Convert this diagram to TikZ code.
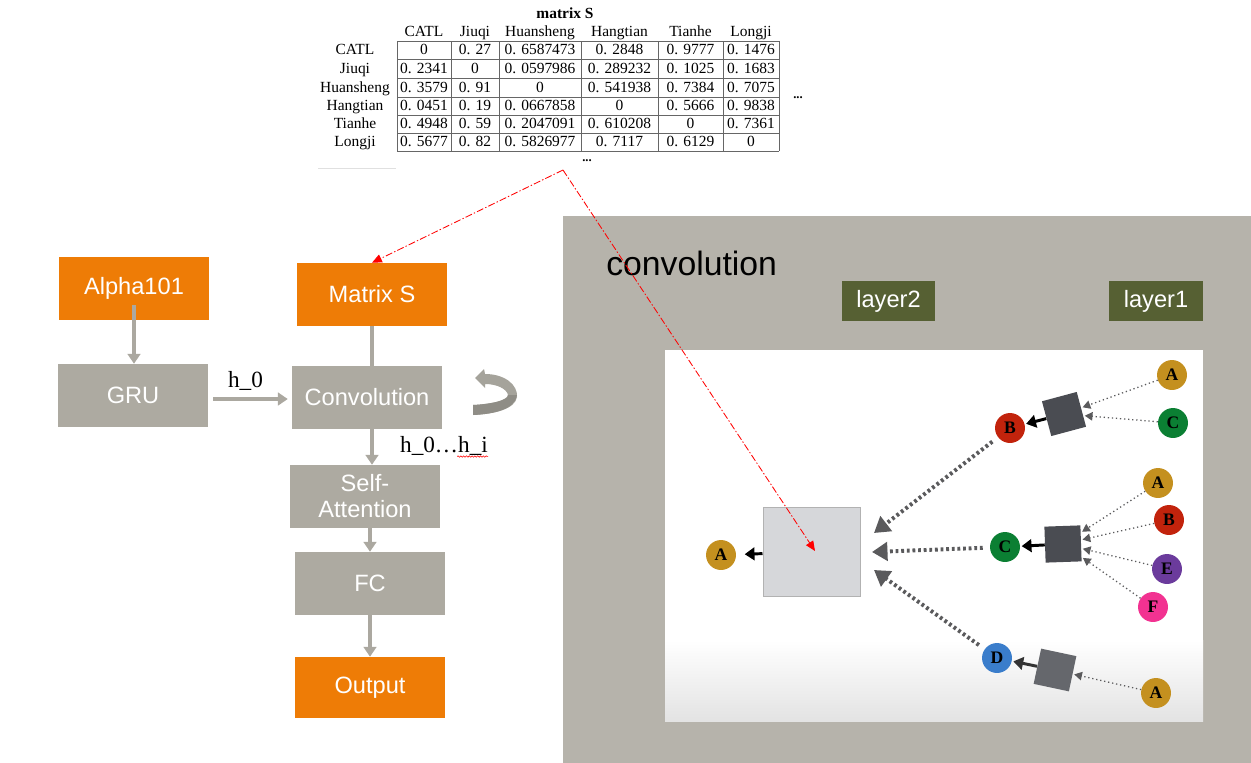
\documentclass[tikz,border=0pt]{standalone}
\usepackage{fontspec}
\setmainfont{Liberation Serif}
\setsansfont{Liberation Sans}
\setmonofont{Liberation Mono}
\usepackage{xcolor}
\usetikzlibrary{arrows.meta,decorations.pathmorphing}
\definecolor{box_orange}{HTML}{EE7C06}
\definecolor{box_gray}{HTML}{ADAAA1}
\definecolor{line_gray}{HTML}{ABA8A0}
\definecolor{icon_gray}{HTML}{A5A39B}
\definecolor{icon_dark}{HTML}{8F8D86}
\definecolor{panel_gray}{HTML}{B6B3AB}
\definecolor{layer_green}{HTML}{566033}
\definecolor{sq_gray}{HTML}{4A4C52}
\definecolor{sq_light}{HTML}{D6D7DA}
\definecolor{dot_gray}{HTML}{5A5A5C}
\definecolor{ball_gold}{HTML}{C4901F}
\definecolor{ball_red}{HTML}{C2230C}
\definecolor{ball_green}{HTML}{0B7F33}
\definecolor{ball_purple}{HTML}{6B3B9C}
\definecolor{ball_pink}{HTML}{F23291}
\definecolor{ball_blue}{HTML}{3A7DCB}

\begin{document}
\begin{tikzpicture}[x=0.025cm, y=-0.025cm,
    every node/.style={inner sep=0pt},
    orange box/.style={fill=box_orange, text=white, minimum width=106.7pt, minimum height=44.8pt,
      font=\sffamily\fontsize{16.8}{18.5}\selectfont, align=center},
    gray box/.style={orange box, fill=box_gray},
    layer box/.style={fill=layer_green, text=white, minimum width=66.2pt, minimum height=28.5pt,
      font=\sffamily\fontsize{16.8}{18}\selectfont},
    flow/.style={draw=line_gray, line width=2.8pt, -{Triangle[length=7pt,width=9pt]}},
    tab/.style={font=\fontsize{11}{12}\selectfont, text height=9.2pt, text depth=2.3pt},
    tab line/.style={draw=black!60, line width=0.7pt},
    lbl/.style={font=\fontsize{16.5}{18}\selectfont},
    ball/.style={circle, minimum size=21.3pt, text=black, font=\bfseries\fontsize{12.5}{12.5}\selectfont},
    block/.style={fill=sq_gray, minimum size=25.6pt},
    thin dots/.style={dot_gray, line width=0.9pt, dotted, shorten >=1pt, -{Triangle[length=5.5pt,width=6pt]}},
    fat dots/.style={dot_gray, line width=2.8pt, dash pattern=on 2pt off 2pt, shorten <=5pt,
      -{Triangle[length=11pt,width=13pt]}},
    push/.style={line width=2.1pt, shorten >=1pt, -{Triangle[length=7pt,width=9pt]}},
    red link/.style={red, line width=0.6pt, dash pattern=on 5pt off 1.5pt on 1pt off 1.5pt,
      -{Triangle[length=7pt,width=6pt]}}]

  \fill[white] (0,0) rectangle (1251,763);
  \useasboundingbox (0,0) rectangle (1251,763);

  % matrix S table at the top
  \node[tab, font=\bfseries\fontsize{11}{12}\selectfont] (title) at (565,14) {matrix S};
  \foreach \x/\name [count=\i] in {424/CATL, 475/Jiuqi, 540/Huansheng, 619.5/Hangtian, 690.5/Tianhe, 751/Longji}
    \node[tab] (col\i) at (\x,32) {\name};
  \foreach \x in {397,451,499,581,658,723,779}
    \draw[tab line] (\x,41) -- (\x,151);
  \foreach \y in {41,59,78,97,115,133,151}
    \draw[tab line] (397,\y) -- (779,\y);
  \foreach \y/\name/\vals [count=\r] in {
      50/CATL/{0,0. 27,0. 6587473,0. 2848,0. 9777,0. 1476},
      68.5/Jiuqi/{0. 2341,0,0. 0597986,0. 289232,0. 1025,0. 1683},
      87.5/Huansheng/{0. 3579,0. 91,0,0. 541938,0. 7384,0. 7075},
      106/Hangtian/{0. 0451,0. 19,0. 0667858,0,0. 5666,0. 9838},
      124/Tianhe/{0. 4948,0. 59,0. 2047091,0. 610208,0,0. 7361},
      142/Longji/{0. 5677,0. 82,0. 5826977,0. 7117,0. 6129,0}} {
    \node[tab] (row\r) at (355,\y) {\name};
    \foreach \v [count=\c] in \vals {
      \pgfmathsetmacro\cx{{424,475,540,619.5,690.5,751}[\c-1]}
      \node[tab] (cell-\r-\c) at (\cx,\y) {\v};
    }
  }
  \node[font=\bfseries\fontsize{9}{9}\selectfont] (more col) at (798,98) {...};
  \node[font=\bfseries\fontsize{9}{9}\selectfont] (more row) at (587,161) {...};
  \draw[black!12, line width=0.7pt] (318,168) -- (396,168);

  % model pipeline
  \node[orange box] (alpha) at (134,288.5) {Alpha101};
  \node[gray box] (gru) at (133,395.5) {GRU};
  \node[orange box] (matS) at (372,294.5) {Matrix S};
  \node[gray box] (conv) at (367,397.5) {Convolution};
  \node[gray box] (att) at (365,496.5) {Self-\\Attention};
  \node[gray box] (fc) at (370,583.5) {FC};
  \node[orange box, minimum height=43.4pt] (out) at (370,687.5) {Output};

  \draw[flow] ([yshift=10.7pt]alpha.south) -- (alpha.south |- gru.north);
  \draw[flow] ([xshift=3.5pt,yshift=-2.5pt]gru.east) -- ([xshift=-2.8pt,yshift=-2.5pt]conv.west |- gru.east);
  \draw[line_gray, line width=2.8pt] (matS.south) -- (matS.south |- conv.north);
  \draw[flow] (matS.south |- conv.south) -- (matS.south |- att.north);
  \draw[flow] (fc.north |- att.south) -- (fc.north);
  \draw[flow] (fc.south) -- (out.north);

  \node[lbl] (h0) at (245.5,381) {h\_0};
  \node[lbl] (hseq) at (444,446) {h\_0\ldots h\_i};
  \draw[red, line width=0.4pt, decorate, decoration={snake, amplitude=0.5pt, segment length=2pt}]
    ([xshift=-22pt,yshift=-0.5pt]hseq.south east) -- ([yshift=-0.5pt]hseq.south east);

  % loop icon next to Convolution
  \fill[icon_gray] (475,378) -- (484,369) -- (485,374) .. controls (505,374) and (518,385) .. (517,397)
    .. controls (515,409) and (495,414) .. (473,415) -- (473,405) .. controls (493,404) and (508,400) .. (508,395)
    .. controls (507,389) and (497,384) .. (485,384) -- (485,388) -- cycle;
  \fill[icon_dark] (517,395) .. controls (515,409) and (495,414) .. (473,415) -- (473,405)
    .. controls (493,404) and (508,400) .. (508,395) -- cycle;

  % convolution panel
  \fill[panel_gray] (563,216) rectangle (1251,763);
  \node[anchor=west, font=\sffamily\fontsize{24}{24}\selectfont] (convtitle) at (606,263) {convolution};
  \node[layer box] (layer2) at (888.5,301) {layer2};
  \node[layer box] (layer1) at (1156,301) {layer1};

  \fill[white] (665,350) rectangle (1203,721);
  \shade[top color=white, bottom color=black!11] (665,640) rectangle (1203,721);

  \node[fill=sq_light, draw=black!30, line width=0.7pt, minimum width=69pt, minimum height=62.6pt] (core) at (811.5,552) {};
  \node[ball, fill=ball_gold] (aL) at (721,555) {A};
  \draw[push, shorten >=6pt] (core) -- (aL);

  \node[block, rotate=15] (q1) at (1064,414) {};
  \node[block, rotate=2] (q2) at (1063,544) {};
  \node[block, rotate=-12, fill=sq_gray!85] (q3) at (1055,670) {};

  \node[ball, fill=ball_red] (bB) at (1010,428) {B};
  \node[ball, fill=ball_green] (cM) at (1005,547) {C};
  \node[ball, fill=ball_blue] (dD) at (997,658) {D};
  \node[ball, fill=ball_gold] (a1) at (1172,375) {A};
  \node[ball, fill=ball_green] (c1) at (1173,423) {C};
  \node[ball, fill=ball_gold] (a2) at (1158,483) {A};
  \node[ball, fill=ball_red] (b2) at (1169,520) {B};
  \node[ball, fill=ball_purple] (e2) at (1167,569) {E};
  \node[ball, fill=ball_pink] (f2) at (1153,607) {F};
  \node[ball, fill=ball_gold] (a3) at (1156,693) {A};

  \foreach \s/\t in {a1/q1, c1/q1, a2/q2, b2/q2, e2/q2, f2/q2, a3/q3}
    \draw[thin dots] (\s) -- (\t);
  \draw[push] (q1) -- (bB);
  \draw[push] (q2) -- (cM);
  \draw[push, black!80] (q3) -- (dD);

  \coordinate (tB) at (874,533);
  \coordinate (tC) at (872,552);
  \coordinate (tD) at (874,570);
  \draw[fat dots] (bB) -- (tB);
  \draw[fat dots] (cM) -- (tC);
  \draw[fat dots] (dD) -- (tD);

  % red pointers from the matrix
  \coordinate (src) at (563,170);
  \coordinate (hit) at (815,551);
  \draw[red link] (src) -- (matS.north);
  \draw[red link] (src) -- (hit);

\end{tikzpicture}
\end{document}
